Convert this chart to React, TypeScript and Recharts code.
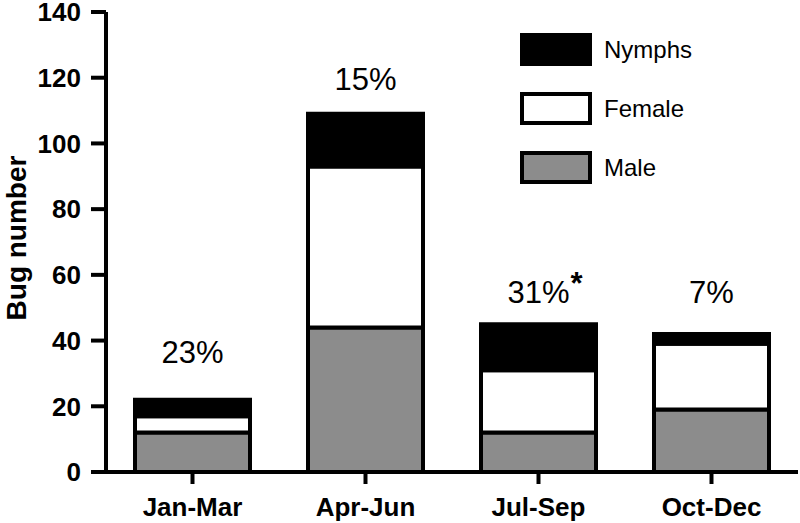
import React from "react";
import { BarChart, Bar, XAxis, YAxis, LabelList, Label } from "recharts";

const quarters = ["Jan-Mar", "Apr-Jun", "Jul-Sep", "Oct-Dec"];
const male = [12, 44, 12, 19];
const female = [5, 49, 19, 20];
const nymphs = [5, 16, 14, 3];
const nymphShare = ["23%", "15%", "31%", "7%"];
const shareMark = ["", "", "*", ""];
const yTicks = [0, 20, 40, 60, 80, 100, 120, 140];

const data = quarters.map((q, i) => ({
  quarter: q,
  male: male[i],
  female: female[i],
  nymphs: nymphs[i],
}));

const FONT = "Arial, 'Liberation Sans', sans-serif";
// how far above each stack the percentage sits
const labelLift = [37, 24, 21, 31];

const legendItems = [
  { name: "Nymphs", fill: "#000" },
  { name: "Female", fill: "#fff" },
  { name: "Male", fill: "#8c8c8c" },
];

function ShareLabel(props: any) {
  const { x, y, width, index } = props;
  const cx = x + width / 2;
  const by = y - labelLift[index];
  return (
    <g>
      <text x={cx} y={by} textAnchor="middle" fontSize={31} fontFamily={FONT} fill="#000">
        {nymphShare[index]}
      </text>
      {shareMark[index] && (
        <text x={cx + 32} y={by - 9} fontSize={31} fontWeight="bold" fontFamily={FONT} fill="#000">
          {shareMark[index]}
        </text>
      )}
    </g>
  );
}

function LegendBox() {
  return (
    <div style={{ position: "absolute", left: 520, top: 33, fontFamily: FONT }}>
      {legendItems.map((it) => (
        <div key={it.name} style={{ display: "flex", alignItems: "center", height: 33, marginBottom: 26 }}>
          <div
            style={{
              width: 72,
              height: 33,
              boxSizing: "border-box",
              border: "4px solid #000",
              background: it.fill,
            }}
          />
          <span style={{ marginLeft: 12, fontSize: 24, color: "#000" }}>{it.name}</span>
        </div>
      ))}
    </div>
  );
}

export default function App() {
  return (
    <div style={{ position: "absolute", left: 0, top: 0, width: 800, height: 523, background: "#fff" }}>
      <BarChart
        width={800}
        height={523}
        data={data}
        margin={{ top: 12, right: 2, bottom: 0, left: 0 }}
        barSize={115}
      >
        <XAxis
          dataKey="quarter"
          height={51}
          axisLine={{ stroke: "#000", strokeWidth: 4 }}
          tickLine={{ stroke: "#000", strokeWidth: 4 }}
          tickSize={12}
          tickMargin={14}
          tick={{ fill: "#000", fontSize: 26, fontWeight: "bold", fontFamily: FONT }}
        />
        <XAxis xAxisId="top" dataKey="quarter" orientation="top" height={0} tick={false} tickLine={false}
          axisLine={{ stroke: "#000", strokeWidth: 4 }} />
        <YAxis
          domain={[0, 140]}
          ticks={yTicks}
          width={106}
          interval={0}
          axisLine={{ stroke: "#000", strokeWidth: 4 }}
          tickLine={{ stroke: "#000", strokeWidth: 4 }}
          tickSize={15}
          tickMargin={10}
          tick={{ fill: "#000", fontSize: 26, fontWeight: "bold", fontFamily: FONT }}
        >
          <Label
            content={() => (
              <text
                transform="translate(26,238) rotate(-90)"
                textAnchor="middle"
                fontSize={28}
                fontWeight="bold"
                fontFamily={FONT}
                fill="#000"
              >
                Bug number
              </text>
            )}
          />
        </YAxis>
        <YAxis yAxisId="right" orientation="right" domain={[0, 140]} width={0} tick={false} tickLine={false}
          axisLine={{ stroke: "#000", strokeWidth: 4 }} />
        <Bar dataKey="male" name="Male" stackId="s" fill="#8c8c8c" stroke="#000" strokeWidth={4} isAnimationActive={false} />
        <Bar dataKey="female" name="Female" stackId="s" fill="#fff" stroke="#000" strokeWidth={4} isAnimationActive={false} />
        <Bar dataKey="nymphs" name="Nymphs" stackId="s" fill="#000" stroke="#000" strokeWidth={4} isAnimationActive={false}>
          <LabelList dataKey="nymphs" content={<ShareLabel />} />
        </Bar>
      </BarChart>
      <LegendBox />
    </div>
  );
}
